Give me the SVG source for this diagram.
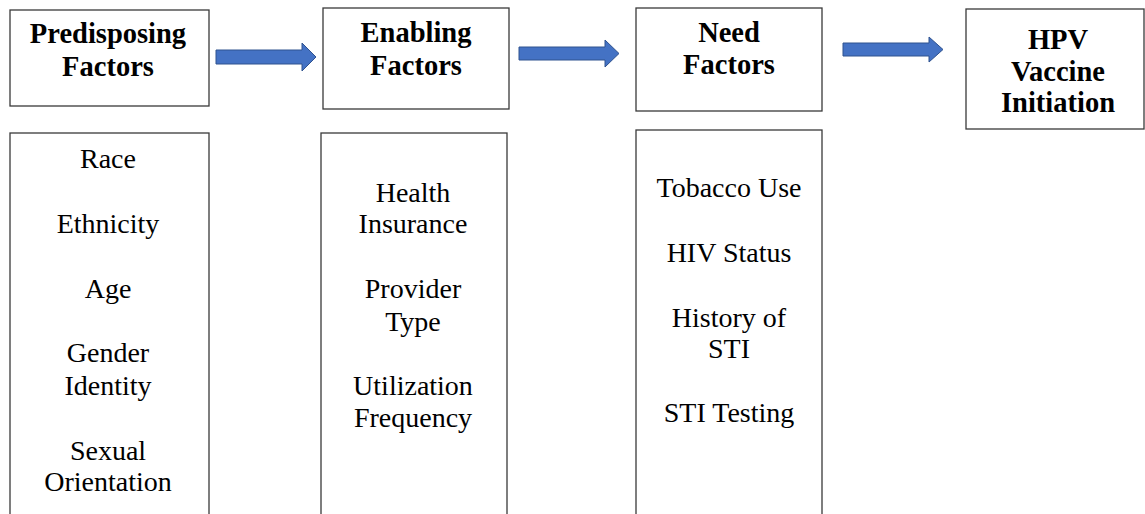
<svg xmlns="http://www.w3.org/2000/svg" width="1145" height="514" viewBox="0 0 1145 514">
  <style>
    .box { fill: #ffffff; stroke: #3a3a3a; stroke-width: 1.3; }
    .head { font-family: "Liberation Serif", "Times New Roman", serif; font-weight: bold; font-size: 28.5px; fill: #000; text-anchor: middle; }
    .item { font-family: "Liberation Serif", "Times New Roman", serif; font-size: 28px; fill: #000; text-anchor: middle; }
    .arrow { fill: #4472c4; stroke: #2f528f; stroke-width: 1; }
  </style>
  <rect width="1145" height="514" fill="#ffffff"/>

  <!-- header boxes -->
  <g id="predisposing">
    <rect class="box" x="10" y="10" width="199" height="96"/>
    <text class="head" x="108" y="43">Predisposing</text>
    <text class="head" x="108" y="76">Factors</text>
  </g>
  <g id="enabling">
    <rect class="box" x="323" y="8" width="186" height="101"/>
    <text class="head" x="416" y="42">Enabling</text>
    <text class="head" x="416" y="75">Factors</text>
  </g>
  <g id="need">
    <rect class="box" x="636" y="8" width="186" height="103"/>
    <text class="head" x="729" y="42">Need</text>
    <text class="head" x="729" y="74">Factors</text>
  </g>
  <g id="hpv">
    <rect class="box" x="966" y="9" width="178" height="120"/>
    <text class="head" x="1058" y="49">HPV</text>
    <text class="head" x="1058" y="81">Vaccine</text>
    <text class="head" x="1058" y="112">Initiation</text>
  </g>

  <!-- factor lists -->
  <g id="predisposing-list">
    <rect class="box" x="10" y="133" width="199" height="400"/>
    <text class="item" x="108" y="168">Race</text>
    <text class="item" x="108" y="233">Ethnicity</text>
    <text class="item" x="108" y="298">Age</text>
    <text class="item" x="108" y="362">Gender</text>
    <text class="item" x="108" y="395">Identity</text>
    <text class="item" x="108" y="460">Sexual</text>
    <text class="item" x="108" y="491">Orientation</text>
  </g>
  <g id="enabling-list">
    <rect class="box" x="321" y="133" width="186" height="400"/>
    <text class="item" x="413" y="202">Health</text>
    <text class="item" x="413" y="233">Insurance</text>
    <text class="item" x="413" y="298">Provider</text>
    <text class="item" x="413" y="331">Type</text>
    <text class="item" x="413" y="395">Utilization</text>
    <text class="item" x="413" y="427">Frequency</text>
  </g>
  <g id="need-list">
    <rect class="box" x="636" y="130" width="186" height="400"/>
    <text class="item" x="729" y="197">Tobacco Use</text>
    <text class="item" x="729" y="262">HIV Status</text>
    <text class="item" x="729" y="327">History of</text>
    <text class="item" x="729" y="358">STI</text>
    <text class="item" x="729" y="422">STI Testing</text>
  </g>

  <!-- block arrows between header boxes -->
  <g id="connectors">
    <polygon class="arrow" points="216,50 302,50 302,43 316,57 302,71 302,64 216,64"/>
    <polygon class="arrow" points="519,47 605,47 605,40 619,53.5 605,67 605,60 519,60"/>
    <polygon class="arrow" points="843,43 929,43 929,37 943,49.5 929,62 929,56 843,56"/>
  </g>
</svg>
